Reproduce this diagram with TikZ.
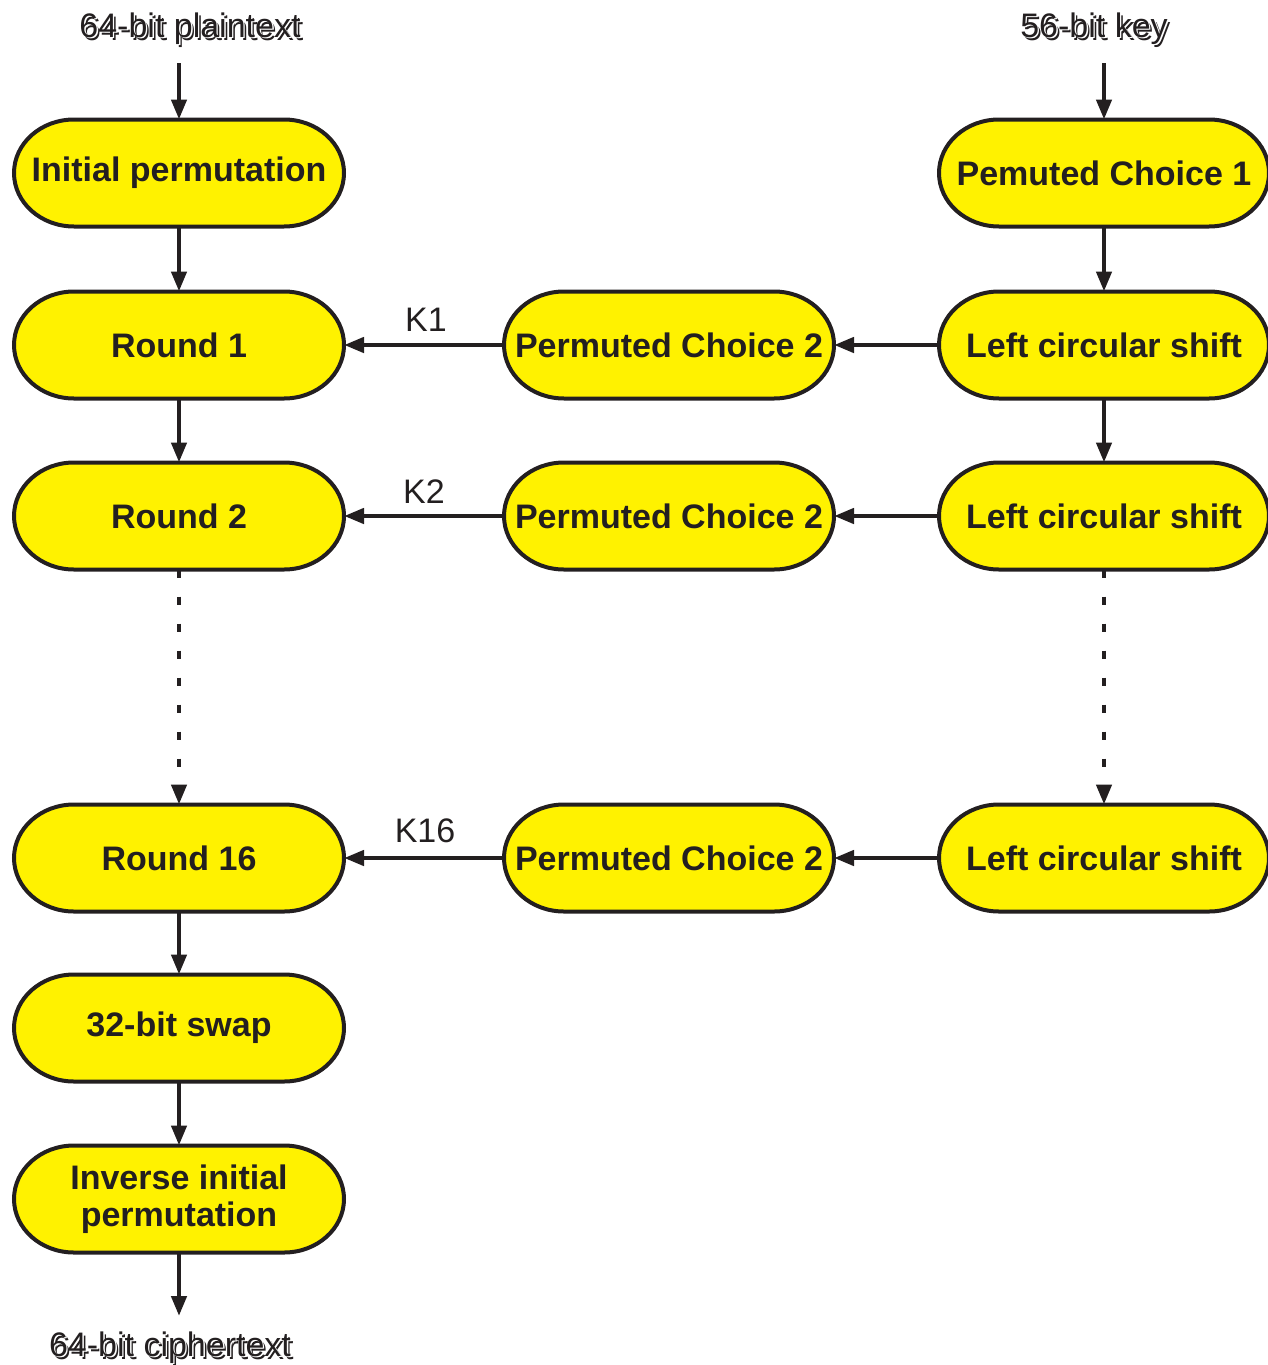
\documentclass[tikz,border=0pt]{standalone}
\usepackage{fontspec}
\setmainfont{Liberation Sans}
\usetikzlibrary{arrows.meta}
\definecolor{pillfill}{RGB}{255,242,0}
\definecolor{ink}{RGB}{35,31,32}
\pgfdeclarelayer{background}
\pgfsetlayers{background,main}
% outlined text with a drop shadow, for the input and output labels
\newcommand\embossed[1]{%
  \makebox[0pt][l]{\hspace{1.4pt}\raisebox{-1.4pt}{\color{ink}#1}}%
  \makebox[0pt][l]{\hspace{0.7pt}\raisebox{-0.7pt}{\color{white}#1}}%
  #1}
\begin{document}
\begin{tikzpicture}[x=0.5pt,y=-0.5pt,
  stage/.style={minimum width=165pt,minimum height=53.5pt,inner sep=0pt,outer sep=0pt,
    font=\fontsize{17}{18.5}\selectfont\bfseries,text=ink,align=center},
  keytext/.style={font=\fontsize{17}{20}\selectfont,text=ink,inner sep=0pt},
  flow/.style={draw=ink,line width=2.2pt,-{Triangle[length=10pt,width=7.5pt]}},
  gap/.style={flow,dash pattern=on 4pt off 9.5pt},
  pill/.style={draw=ink,fill=pillfill,line width=2pt}]
\useasboundingbox (0,0) rectangle (1268,1365);

% data path
\node[stage] (ip)  at (179,173)  {Initial permutation};
\node[stage] (r1)  at (179,345)  {Round 1};
\node[stage] (r2)  at (179,516)  {Round 2};
\node[stage] (r16) at (179,858)  {Round 16};
\node[stage] (sw)  at (179,1028) {32-bit swap};
\node[stage] (iip) at (179,1199) {Inverse initial\\permutation};

% key schedule
\node[stage] (pc1)  at (1104,173) {Pemuted Choice 1};
\node[stage] (ls1)  at (1104,345) {Left circular shift};
\node[stage] (ls2)  at (1104,516) {Left circular shift};
\node[stage] (ls16) at (1104,858) {Left circular shift};
\node[stage] (pca)  at (669,345)  {Permuted Choice 2};
\node[stage] (pcb)  at (669,516)  {Permuted Choice 2};
\node[stage] (pcc)  at (669,858)  {Permuted Choice 2};

% pill outlines behind the texts
\begin{pgfonlayer}{background}
\foreach \n in {ip,r1,r2,r16,sw,iip,pc1,ls1,ls2,ls16,pca,pcb,pcc}{
  \draw[pill] ([xshift=30pt]\n.north west) -- ([xshift=-30pt]\n.north east)
    arc[start angle=90,end angle=-90,x radius=30pt,y radius=26.75pt]
    -- ([xshift=30pt]\n.south west)
    arc[start angle=270,end angle=90,x radius=30pt,y radius=26.75pt] -- cycle;
}
\end{pgfonlayer}

% inputs and output
\node[keytext] (pt) at (190,30)   {\embossed{64-bit plaintext}};
\node[keytext] (ky) at (1094,30)  {\embossed{56-bit key}};
\node[keytext] (ct) at (170,1349) {\embossed{64-bit ciphertext}};
\coordinate (ptin) at (179,63);
\coordinate (kyin) at (1104,63);
\coordinate (ctout) at (179,1316);

% data path connectors
\draw[flow] (ptin) -- (ip);
\draw[flow] (ip) -- (r1);
\draw[flow] (r1) -- (r2);
\draw[gap]  (r2) -- (r16);
\draw[flow] (r16) -- (sw);
\draw[flow] (sw) -- (iip);
\draw[flow] (iip) -- (ctout);

% key schedule connectors
\draw[flow] (kyin) -- (pc1);
\draw[flow] (pc1) -- (ls1);
\draw[flow] (ls1) -- (ls2);
\draw[gap]  (ls2) -- (ls16);
\draw[flow] (ls1) -- (pca);
\draw[flow] (ls2) -- (pcb);
\draw[flow] (ls16) -- (pcc);

% subkeys
\draw[flow] (pca) -- (r1);
\draw[flow] (pcb) -- (r2);
\draw[flow] (pcc) -- (r16);
\node[keytext] (k1)  at (426,320) {K1};
\node[keytext] (k2)  at (424,492) {K2};
\node[keytext] (k16) at (425,831) {K16};
\end{tikzpicture}
\end{document}
